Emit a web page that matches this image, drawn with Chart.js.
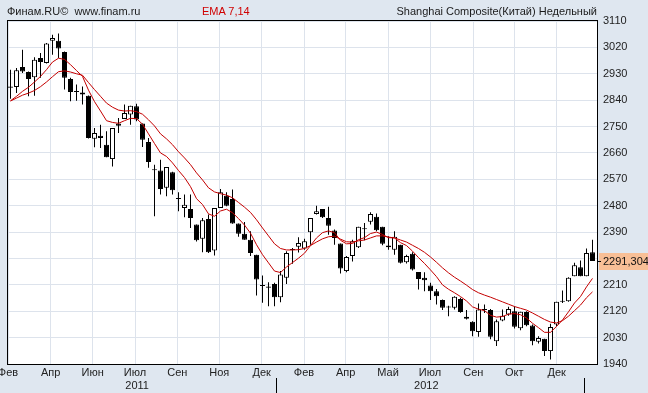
<!DOCTYPE html>
<html>
<head>
<meta charset="utf-8">
<title>Shanghai Composite</title>
<script src="https://cdn.jsdelivr.net/npm/chart.js@4.4.0/dist/chart.umd.min.js"></script>
<style>
    body { margin: 0; background: #dfe7f0; }
    #wrap { position: relative; width: 648px; height: 393px; overflow: hidden; }
    #chart { position: absolute; left: 0; top: 0; }
    .hdr {
        position: absolute;
        top: 5px;
        font: 11px "Liberation Sans", Arial, sans-serif;
        line-height: 12px;
        color: #1a1a1a;
        white-space: pre;
    }
    #ema { left: 202px; color: #d00000; }
</style>
</head>
<body>
<div id="wrap">
    <canvas id="chart" width="648" height="393"></canvas>
    <div class="hdr" style="left:7px">Финам.RU©  www.finam.ru</div>
    <div class="hdr" id="ema">EMA 7,14</div>
    <div class="hdr" style="right:51px">Shanghai Composite(Китай) Недельный</div>
</div>

<script>
// ==========================
// Weekly candles
// ==========================

const opens = [
    2887, 2885, 2953, 2936, 2918, 2984, 2967, 3043, 3043, 3004,
    2912, 2871, 2866, 2855, 2708, 2719, 2688, 2639, 2760, 2776,
    2791, 2819, 2760, 2697, 2604, 2600, 2541, 2594, 2506, 2472,
    2469, 2416, 2367, 2435, 2327, 2472, 2514, 2503, 2419, 2384,
    2364, 2313, 2209, 2204, 2213, 2168, 2234, 2329, 2340, 2334,
    2389, 2452, 2469, 2438, 2395, 2351, 2257, 2308, 2338, 2403,
    2425, 2442, 2408, 2344, 2330, 2347, 2287, 2316, 2254, 2234,
    2208, 2188, 2158, 2136, 2132, 2162, 2101, 2084, 2049, 2127,
    2124, 2018, 2088, 2109, 2120, 2062, 2117, 2071, 2016, 2026,
    1984, 2075, 2152, 2154, 2239, 2270, 2239, 2321
];

const highs = [
    2944, 2950, 3012, 2938, 2986, 3001, 3035, 3063, 3067, 3006,
    2916, 2893, 2887, 2856, 2745, 2756, 2734, 2745, 2779, 2825,
    2821, 2828, 2760, 2711, 2620, 2637, 2612, 2596, 2526, 2518,
    2518, 2416, 2438, 2450, 2472, 2537, 2526, 2535, 2419, 2424,
    2393, 2313, 2242, 2219, 2217, 2257, 2325, 2336, 2372, 2367,
    2438, 2480, 2469, 2476, 2399, 2351, 2308, 2364, 2408, 2421,
    2458, 2453, 2408, 2376, 2393, 2347, 2313, 2321, 2254, 2253,
    2217, 2196, 2160, 2139, 2171, 2166, 2124, 2086, 2146, 2143,
    2128, 2092, 2126, 2135, 2137, 2118, 2120, 2075, 2035, 2026,
    2077, 2152, 2191, 2236, 2285, 2293, 2334, 2364
];

const lows = [
    2845, 2864, 2933, 2853, 2855, 2916, 2965, 2995, 2984, 2876,
    2836, 2838, 2825, 2709, 2679, 2677, 2645, 2614, 2728, 2776,
    2756, 2768, 2680, 2609, 2444, 2518, 2512, 2518, 2461, 2441,
    2404, 2358, 2321, 2319, 2310, 2472, 2478, 2418, 2374, 2364,
    2308, 2174, 2149, 2137, 2137, 2151, 2213, 2282, 2320, 2330,
    2347, 2450, 2438, 2381, 2347, 2249, 2253, 2290, 2336, 2362,
    2416, 2393, 2345, 2330, 2313, 2283, 2283, 2259, 2194, 2188,
    2158, 2143, 2124, 2103, 2126, 2115, 2092, 2035, 2033, 2114,
    2024, 2001, 2086, 2105, 2061, 2055, 2069, 2004, 2010, 1967,
    1955, 2069, 2148, 2152, 2239, 2239, 2239, 2291
];

const closes = [
    2882, 2942, 2938, 2912, 2978, 2970, 3033, 3052, 3016, 2916,
    2868, 2868, 2859, 2711, 2728, 2711, 2645, 2745, 2753, 2796,
    2821, 2774, 2705, 2629, 2601, 2537, 2612, 2533, 2503, 2483,
    2438, 2362, 2430, 2321, 2472, 2526, 2480, 2419, 2384, 2364,
    2319, 2228, 2206, 2200, 2168, 2245, 2319, 2332, 2353, 2359,
    2438, 2461, 2441, 2412, 2370, 2266, 2305, 2359, 2408, 2400,
    2452, 2396, 2350, 2338, 2374, 2285, 2308, 2262, 2230, 2226,
    2188, 2171, 2132, 2133, 2169, 2117, 2094, 2052, 2126, 2124,
    2033, 2086, 2105, 2128, 2067, 2118, 2072, 2018, 2029, 1984,
    2066, 2152, 2156, 2234, 2277, 2239, 2319, 2291.3043
];

// ==========================
// EMA lines
// ==========================

const ema7 = [
    2838, 2853, 2870, 2884, 2902, 2921, 2944, 2970, 2983, 2979,
    2961, 2941, 2921, 2874, 2835, 2803, 2770, 2764, 2761, 2770,
    2778, 2777, 2758, 2725, 2692, 2660, 2648, 2626, 2600, 2576,
    2545, 2504, 2484, 2452, 2444, 2462, 2468, 2456, 2436, 2414,
    2386, 2347, 2313, 2285, 2257, 2252, 2271, 2286, 2301, 2318,
    2344, 2370, 2388, 2394, 2388, 2362, 2350, 2351, 2364, 2371,
    2385, 2390, 2382, 2371, 2370, 2354, 2344, 2325, 2303, 2283,
    2261, 2238, 2210, 2195, 2183, 2170, 2155, 2135, 2127, 2122,
    2106, 2100, 2102, 2110, 2112, 2108, 2097, 2079, 2064, 2048,
    2048, 2068, 2090, 2118, 2148, 2170, 2203, 2232
];

const ema14 = [
    2837, 2847, 2857, 2864, 2873, 2886, 2902, 2920, 2937, 2940,
    2936, 2930, 2925, 2900, 2876, 2853, 2830, 2816, 2806, 2803,
    2804, 2801, 2792, 2773, 2752, 2725, 2708, 2688, 2664, 2643,
    2620, 2592, 2568, 2541, 2527, 2521, 2516, 2507, 2491, 2475,
    2457, 2432, 2404, 2377, 2350, 2334, 2329, 2329, 2330, 2334,
    2344, 2356, 2367, 2374, 2376, 2366, 2357, 2356, 2360, 2363,
    2370, 2377, 2377, 2373, 2370, 2363, 2356, 2345, 2334, 2321,
    2305, 2287, 2268, 2251, 2236, 2223, 2209, 2194, 2183, 2175,
    2168, 2160, 2152, 2144, 2136, 2130, 2124, 2114, 2103, 2092,
    2083, 2080, 2088, 2103, 2122, 2141, 2166, 2186
];

// ==========================
// Axis labels
// ==========================

const monthLabels = ["Фев", "Апр", "Июн", "Июл", "Сен", "Ноя", "Дек",
                     "Фев", "Апр", "Май", "Июл", "Сен", "Окт", "Дек"];
const monthTicks = [-0.4167, 6.70, 13.70, 20.75, 27.80, 34.80, 41.87,
                    48.92, 55.87, 62.92, 69.92, 77.13, 83.97, 91.03];

const yearLabels = ["2011", "2012"];
const yearTicks = [21.1, 69.3];
const yearBreaks = [44.17, 95.53];

const priceLabel = "2291,3043";

// ==========================
// Helpers
// ==========================

const FONT = '"Liberation Sans", Arial, sans-serif';
const GRID = "#dde3ec";
const X_MIN = -0.4167;
const X_MAX = 97.9167;

const wickData = lows.map((l, i) => ({ x: i, y: [l, highs[i]] }));
const bodyData = opens.map((o, i) => ({ x: i, y: [o, closes[i]] }));
const bodyColors = opens.map((o, i) => closes[i] >= o ? "#ffffff" : "#000000");

// ==========================
// Plot background, frame, year breaks, price marker
// ==========================

const plotFrame = {
    id: "plotFrame",

    beforeDraw(chart) {
        const { ctx, chartArea: a } = chart;
        ctx.save();
        ctx.fillStyle = "#ffffff";
        ctx.fillRect(a.left, a.top, a.right - a.left, a.bottom - a.top);
        ctx.restore();
    },

    afterDraw(chart) {
        const { ctx, chartArea: a } = chart;
        const x = chart.scales.x;
        const y = chart.scales.y;

        ctx.save();
        ctx.strokeStyle = "#000000";
        ctx.lineWidth = 1;
        ctx.strokeRect(Math.round(a.left) - 0.5, Math.round(a.top) - 0.5,
                       Math.round(a.right - a.left), Math.round(a.bottom - a.top) + 1);

        // year separators
        yearBreaks.forEach(v => {
            const px = Math.round(x.getPixelForValue(v)) + 0.5;
            ctx.beginPath();
            ctx.moveTo(px, 378);
            ctx.lineTo(px, 393);
            ctx.stroke();
        });

        // last price marker
        const py = Math.round(y.getPixelForValue(closes[closes.length - 1]));
        const bx = Math.round(a.right) + 1;
        ctx.fillStyle = "#f8bf96";
        ctx.fillRect(bx, py - 8, 648 - bx, 17);
        ctx.beginPath();
        ctx.moveTo(bx - 2, py + 0.5);
        ctx.lineTo(bx + 2, py + 0.5);
        ctx.stroke();
        ctx.fillStyle = "#111111";
        ctx.font = "11px " + FONT;
        ctx.textBaseline = "middle";
        ctx.fillText(priceLabel, bx + 4, py + 1);
        ctx.restore();
    }
};

// ==========================
// Chart
// ==========================

new Chart(document.getElementById("chart"), {
    type: "bar",
    data: {
        datasets: [
            {
                type: "line",
                data: ema7.map((v, i) => ({ x: i, y: v })),
                borderColor: "#c40000",
                borderWidth: 1,
                pointRadius: 0,
                tension: 0,
                order: 0
            },
            {
                type: "line",
                data: ema14.map((v, i) => ({ x: i, y: v })),
                borderColor: "#c40000",
                borderWidth: 1,
                pointRadius: 0,
                tension: 0,
                order: 0
            },
            {
                type: "bar",
                data: bodyData,
                backgroundColor: bodyColors,
                borderColor: "#000000",
                borderWidth: 1,
                borderSkipped: false,
                barThickness: 5,
                minBarLength: 1,
                inflateAmount: 0,
                grouped: false,
                order: 1
            },
            {
                type: "bar",
                data: wickData,
                backgroundColor: "#000000",
                barThickness: 1,
                inflateAmount: 0,
                grouped: false,
                order: 2
            }
        ]
    },
    options: {
        responsive: false,
        animation: false,
        layout: { padding: { top: 21, left: 8, right: 0, bottom: 0 } },
        plugins: {
            legend: { display: false },
            tooltip: { enabled: false }
        },
        scales: {
            x: {
                type: "linear",
                bounds: "data",
                offset: false,
                min: X_MIN,
                max: X_MAX,
                weight: 0,
                afterBuildTicks: s => { s.ticks = monthTicks.map(v => ({ value: v })); },
                afterFit: s => { s.height = 15; s.paddingLeft = 0; s.paddingRight = 0; },
                ticks: {
                    autoSkip: false,
                    maxRotation: 0,
                    padding: 2,
                    color: "#222222",
                    font: { size: 11, family: FONT },
                    callback: (v, i) => monthLabels[i]
                },
                grid: { color: GRID, drawTicks: false, offset: false },
                border: { display: false }
            },
            x2: {
                type: "linear",
                position: "bottom",
                bounds: "data",
                offset: false,
                min: X_MIN,
                max: X_MAX,
                weight: 1,
                afterBuildTicks: s => { s.ticks = yearTicks.map(v => ({ value: v })); },
                afterFit: s => { s.height = 14; s.paddingLeft = 0; s.paddingRight = 0; },
                ticks: {
                    autoSkip: false,
                    maxRotation: 0,
                    padding: 0,
                    color: "#222222",
                    font: { size: 11, family: FONT },
                    callback: (v, i) => yearLabels[i]
                },
                grid: { display: false, drawTicks: false, offset: false },
                border: { display: false }
            },
            y: {
                position: "right",
                min: 1940,
                max: 3110,
                afterFit: s => { s.width = 50; },
                ticks: {
                    stepSize: 90,
                    padding: 5,
                    color: "#222222",
                    font: { size: 11, family: FONT },
                    callback: v => String(v)
                },
                grid: { color: GRID, drawTicks: false },
                border: { display: false }
            }
        }
    },
    plugins: [plotFrame]
});
</script>
</body>
</html>
